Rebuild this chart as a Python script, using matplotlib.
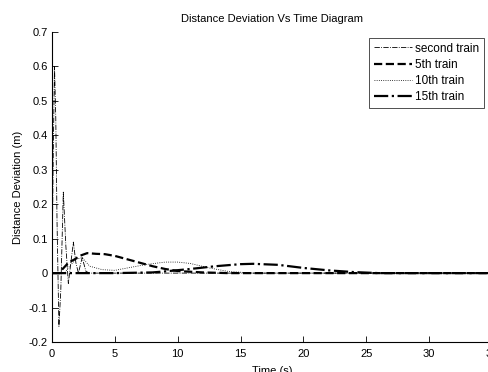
import matplotlib
matplotlib.use("Agg")
import matplotlib.pyplot as plt
import numpy as np

plt.rcParams['font.family'] = ['Liberation Sans', 'DejaVu Sans']

# Data
t_second = [0, 0.1, 0.2, 0.3, 0.4, 0.55, 0.7, 0.9, 1.1, 1.3, 1.5, 1.7, 1.9, 2.1, 2.4, 2.7, 3.0, 5, 10, 20, 35]
v_second = [0, 0.35, 0.60, 0.45, 0.15, -0.155, -0.05, 0.235, 0.08, -0.03, 0.03, 0.09, 0.03, 0.0, 0.045, 0.005, 0.0, 0.0, 0.0, 0.0, 0.0]

t_5th = [0, 0.6, 0.8, 1.3, 1.8, 2.2, 2.8, 3.5, 4.2, 5, 6, 7, 8, 9, 10, 12, 14, 20, 35]
v_5th = [0, 0, 0.01, 0.03, 0.04, 0.05, 0.058, 0.056, 0.055, 0.05, 0.04, 0.03, 0.02, 0.012, 0.006, 0.002, 0, 0, 0]

t_10th = [0, 1.0, 1.4, 1.9, 2.4, 3.0, 4.0, 5.0, 6.0, 7.5, 9.0, 10.0, 11.0, 12.5, 14.0, 16.0, 20, 35]
v_10th = [0, 0, 0.02, 0.04, 0.045, 0.02, 0.01, 0.008, 0.015, 0.025, 0.032, 0.032, 0.028, 0.015, 0.005, 0, 0, 0]

t_15th = [0, 2, 5, 8, 9, 11, 13, 15, 16, 18, 20, 22, 24, 26, 30, 35]
v_15th = [0, 0, 0, 0.002, 0.005, 0.012, 0.02, 0.026, 0.027, 0.024, 0.015, 0.008, 0.003, 0, 0, 0]

labels = ['second train', '5th train', '10th train', '15th train']

fig = plt.figure(figsize=(4.89, 3.72), dpi=100)
ax = fig.add_axes([52/489, 30/372, 440/489, 310/372])

ax.plot(t_second, v_second, color='black', linestyle='-.', linewidth=0.6, label=labels[0])
ax.plot(t_5th, v_5th, color='black', linestyle='--', linewidth=1.6, label=labels[1])
ax.plot(t_10th, v_10th, color='black', linestyle=':', linewidth=0.6, label=labels[2])
ax.plot(t_15th, v_15th, color='black', linestyle='-.', linewidth=1.6, label=labels[3])

ax.set_xlim(0, 35)
ax.set_ylim(-0.2, 0.7)
ax.set_xticks(np.arange(0, 36, 5))
ax.set_yticks(np.round(np.arange(-0.2, 0.71, 0.1), 1))
ax.set_yticklabels(['-0.2', '-0.1', '0', '0.1', '0.2', '0.3', '0.4', '0.5', '0.6', '0.7'])
ax.tick_params(axis='both', direction='in', length=4, width=0.6, labelsize=8)
ax.tick_params(axis='x', pad=5)
ax.tick_params(axis='y', pad=3)
ax.spines['top'].set_visible(False)
ax.spines['right'].set_visible(False)
for s in ['left', 'bottom']:
    ax.spines[s].set_linewidth(0.8)

ax.set_title('Distance Deviation Vs Time Diagram', fontsize=8, pad=7)
ax.set_xlabel('Time (s)', fontsize=8, labelpad=5)
ax.set_ylabel('Distance Deviation (m)', fontsize=8, labelpad=4)

leg = ax.legend(loc='upper right', bbox_to_anchor=(0.982, 0.981), borderaxespad=0,
                fontsize=8.5, frameon=True, fancybox=False, edgecolor='black',
                handlelength=3.2, handletextpad=0.3, labelspacing=0.35, borderpad=0.4)
leg.get_frame().set_linewidth(0.6)

fig.savefig('out.png', dpi=100)
